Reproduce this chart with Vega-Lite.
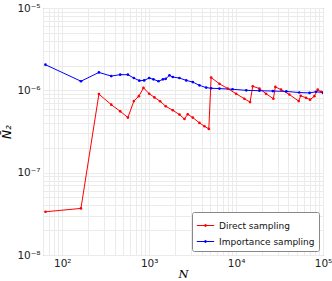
{
  "$schema": "https://vega.github.io/schema/vega-lite/v6.json",
  "width": 280,
  "height": 247,
  "autosize": "none",
  "padding": {"left": 43, "top": 8, "right": 9, "bottom": 26},
  "background": "white",
  "config": {
    "font": "DejaVu Sans",
    "view": {"stroke": "#888888", "strokeWidth": 1},
    "axis": {
      "gridColor": "#ebebeb",
      "gridWidth": 1,
      "domain": false,
      "ticks": false,
      "labelFont": "DejaVu Sans",
      "labelFontSize": 10.5,
      "labelColor": "#222222",
      "labelOverlap": false,
      "labelFlush": false
    }
  },
  "data": {
    "values": [
      {"N": 64, "v": 3.35e-8, "method": "Direct sampling"},
      {"N": 164, "v": 3.68e-8, "method": "Direct sampling"},
      {"N": 264, "v": 9.0e-7, "method": "Direct sampling"},
      {"N": 366, "v": 6.7e-7, "method": "Direct sampling"},
      {"N": 464, "v": 5.56e-7, "method": "Direct sampling"},
      {"N": 569, "v": 4.67e-7, "method": "Direct sampling"},
      {"N": 666, "v": 7.4e-7, "method": "Direct sampling"},
      {"N": 761, "v": 8.5e-7, "method": "Direct sampling"},
      {"N": 860, "v": 1.07e-6, "method": "Direct sampling"},
      {"N": 1000, "v": 9.1e-7, "method": "Direct sampling"},
      {"N": 1150, "v": 8.2e-7, "method": "Direct sampling"},
      {"N": 1337, "v": 7.36e-7, "method": "Direct sampling"},
      {"N": 1550, "v": 6.4e-7, "method": "Direct sampling"},
      {"N": 1870, "v": 5.73e-7, "method": "Direct sampling"},
      {"N": 2230, "v": 5.07e-7, "method": "Direct sampling"},
      {"N": 2545, "v": 4.49e-7, "method": "Direct sampling"},
      {"N": 2780, "v": 5.12e-7, "method": "Direct sampling"},
      {"N": 3175, "v": 4.67e-7, "method": "Direct sampling"},
      {"N": 3785, "v": 4.02e-7, "method": "Direct sampling"},
      {"N": 4325, "v": 3.66e-7, "method": "Direct sampling"},
      {"N": 4855, "v": 3.4e-7, "method": "Direct sampling"},
      {"N": 5160, "v": 1.43e-6, "method": "Direct sampling"},
      {"N": 6430, "v": 1.2e-6, "method": "Direct sampling"},
      {"N": 8030, "v": 1.05e-6, "method": "Direct sampling"},
      {"N": 10000, "v": 9.1e-7, "method": "Direct sampling"},
      {"N": 12450, "v": 7.9e-7, "method": "Direct sampling"},
      {"N": 14480, "v": 7.2e-7, "method": "Direct sampling"},
      {"N": 15550, "v": 1.12e-6, "method": "Direct sampling"},
      {"N": 18550, "v": 1.05e-6, "method": "Direct sampling"},
      {"N": 22100, "v": 9.1e-7, "method": "Direct sampling"},
      {"N": 26850, "v": 7.9e-7, "method": "Direct sampling"},
      {"N": 28300, "v": 1.1e-6, "method": "Direct sampling"},
      {"N": 32900, "v": 1.02e-6, "method": "Direct sampling"},
      {"N": 41000, "v": 8.9e-7, "method": "Direct sampling"},
      {"N": 52500, "v": 7.4e-7, "method": "Direct sampling"},
      {"N": 55400, "v": 8.6e-7, "method": "Direct sampling"},
      {"N": 63800, "v": 8.1e-7, "method": "Direct sampling"},
      {"N": 71000, "v": 7.7e-7, "method": "Direct sampling"},
      {"N": 79500, "v": 8.5e-7, "method": "Direct sampling"},
      {"N": 86900, "v": 1.02e-6, "method": "Direct sampling"},
      {"N": 94800, "v": 9.6e-7, "method": "Direct sampling"},
      {"N": 100000, "v": 9.3e-7, "method": "Direct sampling"},
      {"N": 64, "v": 2.05e-6, "method": "Importance sampling"},
      {"N": 164, "v": 1.29e-6, "method": "Importance sampling"},
      {"N": 264, "v": 1.65e-6, "method": "Importance sampling"},
      {"N": 366, "v": 1.49e-6, "method": "Importance sampling"},
      {"N": 464, "v": 1.55e-6, "method": "Importance sampling"},
      {"N": 569, "v": 1.55e-6, "method": "Importance sampling"},
      {"N": 666, "v": 1.41e-6, "method": "Importance sampling"},
      {"N": 770, "v": 1.31e-6, "method": "Importance sampling"},
      {"N": 875, "v": 1.32e-6, "method": "Importance sampling"},
      {"N": 1000, "v": 1.41e-6, "method": "Importance sampling"},
      {"N": 1120, "v": 1.36e-6, "method": "Importance sampling"},
      {"N": 1280, "v": 1.29e-6, "method": "Importance sampling"},
      {"N": 1440, "v": 1.36e-6, "method": "Importance sampling"},
      {"N": 1550, "v": 1.38e-6, "method": "Importance sampling"},
      {"N": 1710, "v": 1.52e-6, "method": "Importance sampling"},
      {"N": 1870, "v": 1.45e-6, "method": "Importance sampling"},
      {"N": 2230, "v": 1.41e-6, "method": "Importance sampling"},
      {"N": 2670, "v": 1.32e-6, "method": "Importance sampling"},
      {"N": 3175, "v": 1.26e-6, "method": "Importance sampling"},
      {"N": 3785, "v": 1.15e-6, "method": "Importance sampling"},
      {"N": 4520, "v": 1.08e-6, "method": "Importance sampling"},
      {"N": 5160, "v": 1.06e-6, "method": "Importance sampling"},
      {"N": 6430, "v": 1.05e-6, "method": "Importance sampling"},
      {"N": 9100, "v": 1.03e-6, "method": "Importance sampling"},
      {"N": 13100, "v": 1.0e-6, "method": "Importance sampling"},
      {"N": 18550, "v": 9.9e-7, "method": "Importance sampling"},
      {"N": 26500, "v": 9.8e-7, "method": "Importance sampling"},
      {"N": 37900, "v": 9.7e-7, "method": "Importance sampling"},
      {"N": 53300, "v": 9.4e-7, "method": "Importance sampling"},
      {"N": 70000, "v": 9.3e-7, "method": "Importance sampling"},
      {"N": 83000, "v": 9.6e-7, "method": "Importance sampling"},
      {"N": 100000, "v": 9.4e-7, "method": "Importance sampling"}
    ]
  },
  "mark": {"type": "line", "strokeWidth": 1, "clip": true, "point": {"filled": true, "size": 7}},
  "encoding": {
    "x": {
      "field": "N",
      "type": "quantitative",
      "scale": {"type": "log", "domain": [60, 100000], "nice": false},
      "axis": {
        "title": "N",
        "titleFont": "DejaVu Serif",
        "titleFontStyle": "italic",
        "titleFontWeight": "normal",
        "titleFontSize": 11.5,
        "titlePadding": 0,
        "labelPadding": 3,
        "values": [60, 70, 80, 90, 100, 200, 300, 400, 500, 600, 700, 800, 900, 1000, 2000, 3000, 4000, 5000, 6000, 7000, 8000, 9000, 10000, 20000, 30000, 40000, 50000, 60000, 70000, 80000, 90000, 100000],
        "labelExpr": "abs(log(datum.value)/LN10-round(log(datum.value)/LN10))<0.001 ? ['10²','10³','10⁴','10⁵'][round(log(datum.value)/LN10)-2] : ''"
      }
    },
    "y": {
      "field": "v",
      "type": "quantitative",
      "scale": {"type": "log", "domain": [1e-8, 1e-5], "nice": false},
      "axis": {
        "title": "N̄₂",
        "titleFont": "DejaVu Sans",
        "titleFontStyle": "italic",
        "titleFontWeight": "normal",
        "titleFontSize": 12,
        "titlePadding": 3,
        "labelPadding": 3,
        "values": [1e-8, 2e-8, 3e-8, 4e-8, 5e-8, 6e-8, 7e-8, 8e-8, 9e-8, 1e-7, 2e-7, 3e-7, 4e-7, 5e-7, 6e-7, 7e-7, 8e-7, 9e-7, 1e-6, 2e-6, 3e-6, 4e-6, 5e-6, 6e-6, 7e-6, 8e-6, 9e-6, 1e-5],
        "labelExpr": "abs(log(datum.value)/LN10-round(log(datum.value)/LN10))<0.001 ? ['10⁻⁸','10⁻⁷','10⁻⁶','10⁻⁵'][round(log(datum.value)/LN10)+8] : ''"
      }
    },
    "color": {
      "field": "method",
      "type": "nominal",
      "scale": {"domain": ["Direct sampling", "Importance sampling"], "range": ["#ff0000", "#0000ff"]},
      "legend": {
        "title": null,
        "orient": "bottom-right",
        "offset": 4,
        "padding": 4,
        "strokeColor": "#888888",
        "fillColor": "white",
        "cornerRadius": 2,
        "labelFontSize": 9,
        "labelFont": "DejaVu Sans",
        "labelColor": "#111111",
        "rowPadding": 1,
        "symbolType": "M-1,0H1M-0.12,0a0.12,0.12 0 1,0 0.24,0a0.12,0.12 0 1,0 -0.24,0",
        "symbolSize": 300,
        "symbolStrokeWidth": 1,
        "symbolFillColor": null,
        "labelOffset": 4
      }
    },
    "order": {"field": "N", "type": "quantitative"}
  }
}
